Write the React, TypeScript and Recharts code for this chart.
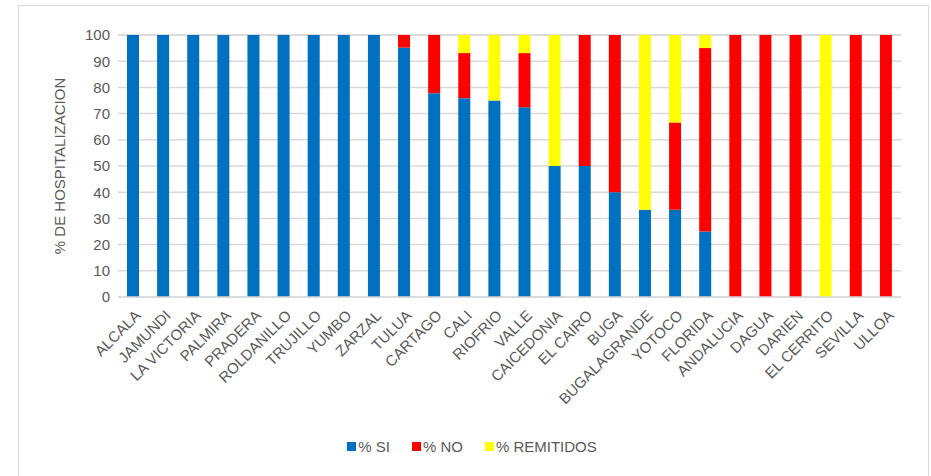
import React from "react";
import { Bar, BarChart, CartesianGrid, Legend, XAxis, YAxis } from "recharts";

const BLUE = "#0070C0";
const RED = "#FF0000";
const YELLOW = "#FFFF00";
const GRID = "#d9d9d9";
const TEXT = "#595959";
const FONT = '"Liberation Sans", Arial, sans-serif';

const municipios = [
  "ALCALA", "JAMUNDI", "LA VICTORIA", "PALMIRA", "PRADERA", "ROLDANILLO", "TRUJILLO",
  "YUMBO", "ZARZAL", "TULUA", "CARTAGO", "CALI", "RIOFRIO", "VALLE", "CAICEDONIA",
  "EL CAIRO", "BUGA", "BUGALAGRANDE", "YOTOCO", "FLORIDA", "ANDALUCIA", "DAGUA",
  "DARIEN", "EL CERRITO", "SEVILLA", "ULLOA",
];
const pctSi = [100, 100, 100, 100, 100, 100, 100, 100, 100, 95.2, 77.8, 75.9, 75, 72.4, 50, 50, 40, 33.3, 33.3, 25, 0, 0, 0, 0, 0, 0];
const pctNo = [0, 0, 0, 0, 0, 0, 0, 0, 0, 4.8, 22.2, 17.2, 0, 20.7, 0, 50, 60, 0, 33.3, 70, 100, 100, 100, 0, 100, 100];
const pctRemitidos = [0, 0, 0, 0, 0, 0, 0, 0, 0, 0, 0, 6.9, 25, 6.9, 50, 0, 0, 66.7, 33.4, 5, 0, 0, 0, 100, 0, 0];
const yTicks = [0, 10, 20, 30, 40, 50, 60, 70, 80, 90, 100];
const legendOrder = ["% SI", "% NO", "% REMITIDOS"];

const data = municipios.map((m, i) => ({
  name: m,
  si: pctSi[i],
  no: pctNo[i],
  rem: pctRemitidos[i],
}));

function XTick(props: any) {
  const { x, y, payload } = props;
  return (
    <g transform={`translate(${x + 5},${y + 8})`}>
      <text
        x={0}
        y={0}
        dy={5}
        textAnchor="end"
        transform="rotate(-45)"
        fill={TEXT}
        fontSize={15}
        fontFamily={FONT}
      >
        {payload.value}
      </text>
    </g>
  );
}

function LegendBox(props: any) {
  const items = [...(props.payload || [])].sort(
    (a: any, b: any) => legendOrder.indexOf(a.value) - legendOrder.indexOf(b.value)
  );
  return (
    <div style={{ display: "flex", justifyContent: "center", fontFamily: FONT, fontSize: 15, color: TEXT }}>
      {items.map((it: any) => (
        <div key={it.value} style={{ display: "flex", alignItems: "center", marginRight: 22 }}>
          <span style={{ width: 9, height: 9, background: it.color, display: "inline-block", marginRight: 2 }} />
          <span>{it.value}</span>
        </div>
      ))}
    </div>
  );
}

export default function App() {
  return (
    <div style={{ position: "absolute", left: 0, top: 0, width: 931, height: 476, overflow: "hidden", background: "#fff" }}>
      <div
        style={{
          position: "absolute",
          left: 18,
          top: 5,
          width: 911,
          height: 490,
          border: `1.5px solid ${GRID}`,
          boxSizing: "border-box",
        }}
      />
      <div style={{ position: "absolute", left: 0, top: 0 }}>
        <BarChart
          width={931}
          height={476}
          data={data}
          barCategoryGap="60%"
          margin={{ top: 35, right: 30, left: 28, bottom: 42 }}
        >
          <CartesianGrid stroke={GRID} strokeWidth={1.5} vertical={false} />
          <XAxis
            dataKey="name"
            interval={0}
            height={120}
            stroke={GRID}
            strokeWidth={1.5}
            tickLine={false}
            tick={<XTick />}
          />
          <YAxis
            width={90}
            domain={[0, 100]}
            ticks={yTicks}
            axisLine={false}
            tickLine={false}
            tick={{ fill: TEXT, fontSize: 15, fontFamily: FONT }}
            label={{
              value: "% DE HOSPITALIZACION",
              angle: -90,
              position: "insideLeft",
              offset: 32,
              style: { fill: TEXT, fontSize: 15, fontFamily: FONT, textAnchor: "middle" },
            }}
          />
          <Legend
            content={<LegendBox />}
            wrapperStyle={{ top: 438, left: 0, width: 966 }}
          />
          <Bar dataKey="si" name="% SI" stackId="a" fill={BLUE} barSize={12} isAnimationActive={false} />
          <Bar dataKey="no" name="% NO" stackId="a" fill={RED} barSize={12} isAnimationActive={false} />
          <Bar dataKey="rem" name="% REMITIDOS" stackId="a" fill={YELLOW} barSize={12} isAnimationActive={false} />
        </BarChart>
      </div>
    </div>
  );
}
